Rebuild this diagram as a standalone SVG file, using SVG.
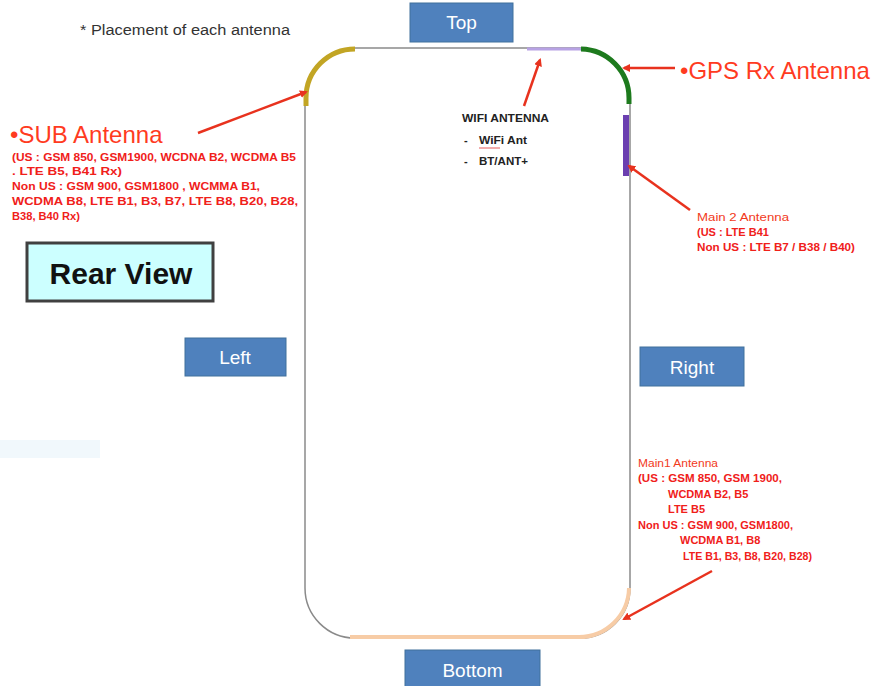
<svg xmlns="http://www.w3.org/2000/svg" width="872" height="686" viewBox="0 0 872 686">
<defs>
<marker id="ah" markerWidth="8" markerHeight="8" refX="6" refY="4" orient="auto" markerUnits="userSpaceOnUse"><path d="M0,0 L8,4 L0,8 z" fill="#e8321e"/></marker>
<style>
.lbl{fill:#4f81bd;stroke:#41719c;stroke-width:1}
.lt{font-family:"Liberation Sans",Arial,sans-serif;font-size:19px;fill:#ffffff;text-anchor:middle}
.big{font-family:"Liberation Sans",Arial,sans-serif;font-size:24px;fill:#ff3b1f}
.sm{font-family:"Liberation Sans",Arial,sans-serif;font-size:11px;font-weight:bold;fill:#f0201a}
.ttl{font-family:"Liberation Sans",Arial,sans-serif;font-size:11px;fill:#f23a1c}
.wf{font-family:"Liberation Sans",Arial,sans-serif;font-size:11px;font-weight:bold;fill:#222}
.arr{stroke:#e8321e;stroke-width:2.5;fill:none;marker-end:url(#ah)}
</style>
</defs>
<rect width="872" height="686" fill="#ffffff"/>
<rect x="0" y="440" width="100" height="18" fill="#f1f8fc"/>
<text x="80" y="35" font-family="Liberation Sans,Arial,sans-serif" font-size="14" fill="#333" textLength="210" lengthAdjust="spacingAndGlyphs">* Placement of each antenna</text>

<g id="phone">
<rect x="305" y="48" width="325" height="590" rx="50" ry="50" fill="#ffffff" stroke="#8a8a8a" stroke-width="1.5"/>
</g>
<g id="antenna-segments" fill="none">
<path id="sub-seg" d="M306,106 L306,98 A49,49 0 0 1 355,49" stroke="#c2a524" stroke-width="5"/>
<path id="wifi-seg" d="M527,49 L581,49" stroke="#b7a2e4" stroke-width="3"/>
<path id="gps-seg" d="M581,49 A49,49 0 0 1 629,98 L629,104" stroke="#1d7a1d" stroke-width="5"/>
<path id="main2-seg" d="M626,115 L626,176" stroke="#6b3fb0" stroke-width="6"/>
<path id="main1-seg" d="M629,588 A50,50 0 0 1 579,637 L350,637" stroke="#f7cca6" stroke-width="4"/>
</g>

<g id="top"><rect class="lbl" x="410" y="3" width="103" height="39"/><text class="lt" x="461.5" y="29">Top</text></g>
<g id="bottom"><rect class="lbl" x="405" y="650" width="135" height="40"/><text class="lt" x="472.5" y="677">Bottom</text></g>
<g id="left"><rect class="lbl" x="185" y="338" width="101" height="38"/><text class="lt" x="235" y="364">Left</text></g>
<g id="right"><rect class="lbl" x="640" y="347" width="104" height="39"/><text class="lt" x="692" y="374">Right</text></g>

<g id="rear-view"><rect x="27" y="243" width="186" height="58" fill="#ccffff" stroke="#404040" stroke-width="3"/><text x="121" y="284" text-anchor="middle" font-family="Liberation Sans,Arial,sans-serif" font-size="30" font-weight="bold" fill="#111">Rear View</text></g>

<g id="gps-label"><text class="big" x="680" y="79">•GPS Rx Antenna</text></g>
<g id="sub-label">
<text class="big" x="10" y="143">•SUB Antenna</text>
<text class="sm" x="12" y="161" textLength="284" lengthAdjust="spacingAndGlyphs">(US : GSM 850, GSM1900, WCDNA B2, WCDMA B5</text>
<text class="sm" x="12" y="175" textLength="110" lengthAdjust="spacingAndGlyphs">. LTE B5, B41 Rx)</text>
<text class="sm" x="12" y="190" textLength="248" lengthAdjust="spacingAndGlyphs">Non US : GSM 900, GSM1800 , WCMMA B1,</text>
<text class="sm" x="12" y="205" textLength="286" lengthAdjust="spacingAndGlyphs">WCDMA B8,  LTE B1, B3, B7, LTE B8, B20, B28,</text>
<text class="sm" x="12" y="220" textLength="68" lengthAdjust="spacingAndGlyphs">B38, B40 Rx)</text>
</g>
<g id="wifi-label">
<text class="wf" x="462" y="122" textLength="87" lengthAdjust="spacingAndGlyphs">WIFI ANTENNA</text>
<text class="wf" x="464" y="144">-</text>
<text class="wf" x="479" y="144" textLength="48" lengthAdjust="spacingAndGlyphs">WiFi Ant</text>
<path d="M479,148 L500,148" stroke="#e03030" stroke-width="0.8"/>
<text class="wf" x="464" y="165">-</text>
<text class="wf" x="479" y="165" textLength="49" lengthAdjust="spacingAndGlyphs">BT/ANT+</text>
</g>
<g id="main2-label">
<text class="ttl" x="697" y="221" textLength="92" lengthAdjust="spacingAndGlyphs">Main 2 Antenna</text>
<text class="sm" x="697" y="236">(US : LTE B41</text>
<text class="sm" x="697" y="251" textLength="158" lengthAdjust="spacingAndGlyphs">Non US : LTE B7 / B38 / B40)</text>
</g>
<g id="main1-label">
<text class="ttl" x="638" y="467" textLength="80" lengthAdjust="spacingAndGlyphs">Main1 Antenna</text>
<text class="sm" x="638" y="482" textLength="144" lengthAdjust="spacingAndGlyphs">(US : GSM 850, GSM 1900,</text>
<text class="sm" x="668" y="498">WCDMA B2, B5</text>
<text class="sm" x="668" y="513">LTE B5</text>
<text class="sm" x="638" y="529" textLength="155" lengthAdjust="spacingAndGlyphs">Non US : GSM 900, GSM1800,</text>
<text class="sm" x="680" y="544">WCDMA B1, B8</text>
<text class="sm" x="683" y="560" textLength="129" lengthAdjust="spacingAndGlyphs">LTE B1, B3, B8, B20, B28)</text>
</g>

<g id="connectors">
<path class="arr" d="M675,68 L624,68"/>
<path class="arr" d="M198,133 L306,92"/>
<path class="arr" d="M524,106 L540,60"/>
<path class="arr" d="M690,210 L629,166"/>
<path class="arr" d="M712,571 L624,619"/>
</g>
</svg>
